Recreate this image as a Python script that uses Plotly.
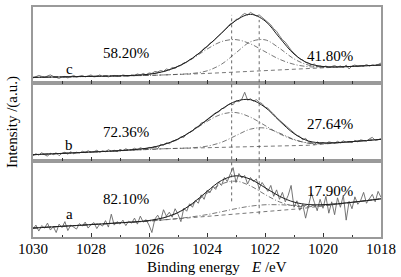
import plotly.graph_objects as go

# ---------------- data ----------------
energy_fit = [1030, 1029.5, 1029, 1028.5, 1028, 1027.5, 1027, 1026.5, 1026, 1025.5,
              1025, 1024.5, 1024, 1023.5, 1023, 1022.5, 1022, 1021.5, 1021, 1020.5,
              1020, 1019.5, 1019, 1018.5, 1018]
energy_raw = [round(1030 - 0.1 * i, 1) for i in range(121)]

peak_centres = [1023.15, 1022.2]

# panel c (top)
raw_c = [5.5, 6.5, 8.0, 7.0, 6.0, 7.5, 8.5, 7.0, 6.0, 5.0,
         6.5, 7.0, 5.5, 6.5, 8.0, 6.5, 7.0, 8.0, 6.5, 7.5,
         8.5, 6.5, 7.0, 8.5, 7.0, 7.5, 6.5, 7.5, 8.0, 7.0,
         7.0, 8.5, 8.0, 7.0, 8.5, 8.0, 9.5, 8.5, 10.0, 8.5,
         10.5, 10.0, 12.0, 11.5, 13.0, 12.0, 14.5, 13.5, 16.0, 15.0,
         17.5, 18.0, 20.5, 21.0, 24.0, 25.0, 28.0, 29.5, 32.0, 35.5,
         37.0, 40.5, 42.0, 45.5, 48.0, 50.5, 54.0, 56.5, 60.0, 61.0,
         64.5, 65.0, 68.5, 70.5, 69.0, 71.5, 69.5, 68.0, 69.0, 66.0,
         64.0, 61.5, 59.0, 55.0, 52.5, 48.0, 44.0, 41.5, 37.0, 33.5,
         30.5, 27.0, 24.5, 23.5, 21.0, 20.5, 18.5, 19.5, 17.0, 17.5,
         16.5, 17.5, 16.0, 17.0, 18.0, 16.5, 17.5, 16.0, 18.5, 14.5,
         17.5, 18.5, 17.0, 18.0, 17.5, 19.0, 17.5, 18.5, 18.0, 19.0,
         20.5]
env_c = [6.0, 6.3, 6.5, 6.8, 7.0, 7.3, 7.6, 8.1, 9.2, 11.9, 17.1, 25.5, 37.1, 50.7,
         63.5, 69.6, 63.0, 46.1, 29.6, 20.2, 17.0, 16.6, 17.1, 17.8, 18.5]
comp1_c = [6.0, 6.3, 6.5, 6.8, 7.0, 7.3, 7.6, 8.1, 9.2, 11.9, 17.0, 25.0, 34.5, 42.1,
           44.1, 39.8, 32.0, 24.3, 19.2, 16.8, 16.3, 16.5, 17.1, 17.8, 18.5]
comp2_c = [6.0, 6.3, 6.5, 6.8, 7.0, 7.3, 7.5, 7.8, 8.0, 8.5, 9.1, 10.0, 12.6, 19.3,
           30.8, 41.9, 43.9, 35.4, 24.7, 18.4, 16.4, 16.5, 17.1, 17.8, 18.5]
base_x_c = [1030, 1026, 1024, 1020.5, 1018]
base_c = [6, 8, 10, 15, 18.5]

# panel b (middle)
raw_b = [5.0, 7.0, 5.5, 8.0, 6.0, 4.5, 7.5, 6.0, 8.0, 5.0,
         7.5, 8.5, 6.5, 9.0, 7.0, 8.5, 7.5, 9.5, 8.0, 10.0,
         8.5, 9.0, 10.5, 8.5, 10.0, 9.0, 11.0, 9.5, 10.5, 9.0,
         11.5, 10.0, 12.0, 10.5, 11.0, 12.5, 11.0, 13.0, 12.0, 11.5,
         13.5, 12.5, 14.0, 12.0, 16.5, 15.5, 18.0, 17.0, 19.5, 20.0,
         21.5, 24.0, 23.5, 27.0, 28.5, 30.0, 33.5, 34.0, 38.0, 39.0,
         41.5, 44.0, 45.5, 48.5, 49.0, 52.5, 53.0, 56.0, 57.5, 56.5,
         60.5, 59.5, 62.0, 69.0, 61.0, 62.5, 60.0, 61.5, 59.0, 57.5,
         54.0, 53.0, 49.5, 47.0, 43.5, 41.0, 38.5, 36.0, 33.0, 30.5,
         28.0, 25.5, 24.5, 21.0, 22.5, 19.0, 18.5, 16.0, 19.0, 17.0,
         18.5, 17.0, 19.0, 18.0, 17.5, 19.5, 18.0, 20.0, 18.5, 19.5,
         18.0, 20.5, 19.0, 21.0, 20.0, 19.5, 22.0, 23.5, 20.5, 21.0,
         22.0]
env_b = [6.0, 6.7, 7.3, 8.0, 8.7, 9.3, 10.1, 11.2, 12.8, 16.2, 21.8, 30.4, 41.1, 51.9,
         60.0, 61.5, 53.9, 40.1, 27.3, 19.8, 17.9, 18.2, 19.2, 20.3, 21.5]
comp1_b = [6.0, 6.7, 7.3, 8.0, 8.7, 9.3, 10.1, 11.2, 12.8, 16.2, 21.8, 30.1, 39.6, 46.8,
           48.5, 43.8, 35.5, 27.1, 21.1, 17.9, 17.5, 18.1, 19.2, 20.3, 21.5]
comp2_b = [6.0, 6.7, 7.3, 8.0, 8.7, 9.3, 10.0, 10.7, 11.3, 12.0, 12.4, 13.0, 14.6, 18.5,
           25.3, 31.8, 32.9, 27.8, 21.4, 17.5, 17.1, 18.0, 19.1, 20.3, 21.5]
base_x_b = [1030, 1025.5, 1020.5, 1018]
base_b = [6, 12, 15.5, 21.5]

# panel a (bottom)
raw_a = [8.0, 12.0, 6.0, 11.5, 9.0, 14.0, 7.0, 10.5, 4.5, 13.0,
         9.5, 15.5, 6.5, 12.0, 10.0, 8.0, 13.5, 11.0, 15.0, 9.0,
         12.5, 14.5, 8.5, 13.0, 11.0, 16.5, 10.0, 23.0, 12.0, 15.5,
         13.0, 17.0, 11.5, 16.0, 14.0, 19.0, 13.0, 21.0, 15.0, 17.5,
         12.0, 4.5, 18.0, 22.0, 16.5, 27.5, 21.0, 25.0, 20.0, 28.5,
         23.0, 15.5, 29.0, 26.0, 33.5, 30.0, 37.0, 34.0, 42.5, 38.0,
         47.0, 44.5, 51.0, 48.0, 55.5, 52.0, 60.0, 56.0, 63.5, 70.0,
         55.0, 64.0, 59.5, 62.0, 53.5, 60.0, 56.0, 58.5, 49.0, 55.0,
         50.5, 46.0, 52.0, 41.0, 47.5, 38.0, 45.0, 35.5, 42.0, 52.0,
         30.0, 36.5, 27.0, 33.0, 19.0, 31.5, 44.0, 35.0, 26.5, 38.0,
         29.0, 41.0, 24.0, 35.5, 22.5, 39.5, 30.0, 42.0, 17.0, 36.0,
         28.5, 40.5, 33.0, 37.0, 45.0, 34.0, 38.5, 43.0, 35.5, 46.0,
         40.0]
env_a = [9.0, 9.9, 10.8, 11.6, 12.5, 13.4, 14.3, 15.2, 16.6, 19.4, 24.7, 33.9, 45.9, 57.0,
         61.7, 58.2, 49.8, 41.1, 35.2, 32.7, 32.6, 33.5, 35.0, 36.7, 38.5]
comp1_a = [9.0, 9.9, 10.8, 11.6, 12.5, 13.4, 14.3, 15.2, 16.6, 19.3, 24.5, 33.1, 44.1, 53.5,
           56.3, 51.5, 42.9, 35.4, 31.3, 30.6, 31.6, 33.1, 34.9, 36.7, 38.5]
comp2_a = [9.0, 9.9, 10.8, 11.6, 12.5, 13.4, 14.3, 15.1, 16.0, 17.3, 18.7, 20.4, 22.6, 25.5,
           28.6, 31.1, 32.5, 32.5, 31.9, 31.7, 32.4, 33.5, 35.0, 36.7, 38.5]
base_x_a = [1030, 1026, 1020.8, 1018]
base_a = [9, 16, 28.5, 38.5]

panel_letters = ["a", "b", "c"]
pct_first = ["82.10%", "72.36%", "58.20%"]
pct_second = ["17.90%", "27.64%", "41.80%"]
tick_vals = [1030, 1028, 1026, 1024, 1022, 1020, 1018]

# ---------------- figure ----------------
FONT = "Liberation Serif, Times New Roman, DejaVu Serif, serif"
fig = go.Figure()

panels = [
    ("x", "y", raw_a, env_a, comp1_a, comp2_a, base_x_a, base_a),
    ("x2", "y2", raw_b, env_b, comp1_b, comp2_b, base_x_b, base_b),
    ("x3", "y3", raw_c, env_c, comp1_c, comp2_c, base_x_c, base_c),
]

for xa, ya, raw, env, c1, c2, bx, by in panels:
    fig.add_trace(go.Scatter(x=energy_raw, y=raw, xaxis=xa, yaxis=ya, mode="lines",
                             line=dict(color="#666666", width=0.9), showlegend=False))
    fig.add_trace(go.Scatter(x=bx, y=by, xaxis=xa, yaxis=ya, mode="lines",
                             line=dict(color="#555555", width=0.8, dash="4px,3px"),
                             showlegend=False))
    for comp in (c1, c2):
        fig.add_trace(go.Scatter(x=energy_fit, y=comp, xaxis=xa, yaxis=ya, mode="lines",
                                 line=dict(color="#555555", width=0.8, shape="spline",
                                           dash="5px,2px,1px,2px"),
                                 showlegend=False))
    fig.add_trace(go.Scatter(x=energy_fit, y=env, xaxis=xa, yaxis=ya, mode="lines",
                             line=dict(color="#1e1e1e", width=1.0, shape="spline"),
                             showlegend=False))

frame = "#9a9a9a"
xcommon = dict(range=[1030, 1018], showgrid=False, zeroline=False, showline=True,
               linecolor=frame, linewidth=1.5, mirror=True, ticks="inside",
               tickmode="array", tickvals=tick_vals, ticklen=4, tickwidth=1,
               tickcolor="#333333",
               minor=dict(ticks="inside", dtick=1, tick0=1018, ticklen=2.5,
                          tickwidth=1, tickcolor="#333333"),
               tickfont=dict(family=FONT, size=15, color="black"), fixedrange=True)
ycommon = dict(showgrid=False, zeroline=False, showline=True, linecolor=frame,
               linewidth=1.5, mirror=True, ticks="", showticklabels=False,
               fixedrange=True)

fig.update_layout(
    width=401, height=277, autosize=False,
    margin=dict(l=33, r=19, t=5, b=40),
    paper_bgcolor="white", plot_bgcolor="white",
    font=dict(family=FONT),
    xaxis=dict(xcommon, anchor="y", domain=[0, 1], ticklabelstandoff=-3),
    xaxis2=dict(xcommon, anchor="y2", domain=[0, 1], showticklabels=False),
    xaxis3=dict(xcommon, anchor="y3", domain=[0, 1], showticklabels=False),
    yaxis=dict(ycommon, anchor="x", domain=[0, 0.332], range=[0, 77]),
    yaxis2=dict(ycommon, anchor="x2", domain=[0.332, 0.668], range=[0, 78]),
    yaxis3=dict(ycommon, anchor="x3", domain=[0.668, 1], range=[0, 77]),
)

# vertical dashed guide lines through the component centres
for centre, y0, y1 in zip(peak_centres, [0.155, 0.099], [0.9655, 0.944]):
    fig.add_shape(type="line", xref="x", yref="paper", x0=centre, x1=centre, y0=y0, y1=y1,
                  line=dict(color="#444444", width=0.8, dash="3px,3px"))

def px_x(px):
    return (px - 33) / 349.0

def px_y(py):
    return (237 - py) / 232.0

tf = dict(family=FONT, size=15, color="black")
letter_y = [214, 144.7, 67.7]
pct1_y = [198.7, 131.3, 51.7]
pct2_y = [190.3, 122.7, 54.3]

def note(px, py, text, xanchor="center", angle=0):
    fig.add_annotation(x=px_x(px), y=px_y(py), xref="paper", yref="paper", text=text,
                       showarrow=False, font=tf, xanchor=xanchor, yanchor="middle",
                       textangle=angle)

for i in range(3):
    note(69.3, letter_y[i], panel_letters[i])
    note(126.5, pct1_y[i], pct_first[i])
    note(331, pct2_y[i], pct_second[i])

note(145, 267, "Binding energy", xanchor="left")
note(250, 267, "<i>E</i> /eV", xanchor="left")
note(12, 121, "Intensity /(a.u.)", angle=-90)

fig.write_html("out.html", config={"displayModeBar": False},
               post_script="document.body.style.margin='0px';document.body.style.overflow='hidden';")
